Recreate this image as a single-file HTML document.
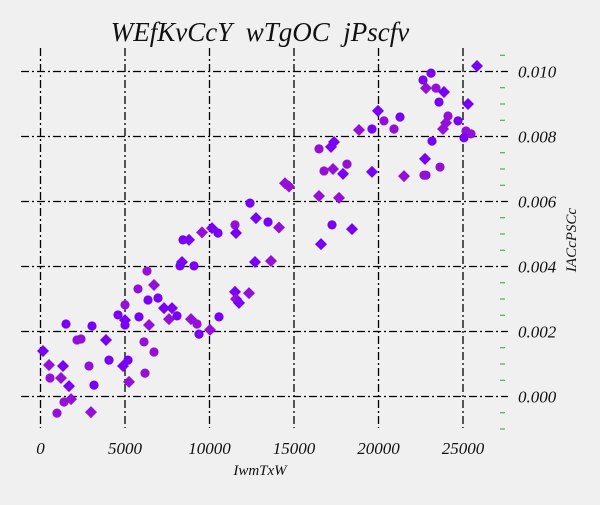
<!DOCTYPE html>
<html><head><meta charset="utf-8"><style>
html,body{margin:0;padding:0;background:#f0f0f0;}
svg text{font-family:"Liberation Serif","DejaVu Serif",serif;font-style:italic;fill:#111;}
</style></head><body>
<svg id="chart" width="600" height="500" viewBox="0 0 600 500" xmlns="http://www.w3.org/2000/svg">
<rect width="600" height="500" fill="#f0f0f0"/>
<text x="260" y="41" font-size="27" text-anchor="middle" style="white-space:pre" xml:space="preserve">WEfKvCcY  wTgOC  jPscfv</text>
<text x="260" y="475" font-size="15" text-anchor="middle">IwmTxW</text>
<text x="0" y="0" font-size="15" text-anchor="middle" transform="translate(576,240) rotate(-90)">IACcPSCc</text>
<g id="grid"></g>
<g id="ticks"></g>
<g id="marks"></g>
</svg>
<script>
const xTicks = [0, 5000, 10000, 15000, 20000, 25000];
const yTicks = [0, 0.002, 0.004, 0.006, 0.008, 0.010];
const yTickLabels = ["0.000", "0.002", "0.004", "0.006", "0.008", "0.010"];
const circleX = [562,976,1390,1509,2160,2396,2870,3047,3166,4053,4586,5000,5000,5178,5828,5769,6302,6361,6124,6716,6183,6953,8077,8254,9083,9260,9379,10562,8432,10503,11509,12396,13462,16479,16775,18136,17249,19615,20325,20917,21272,22633,23107,23402,23580,24112,24704,23166,23639,22692,22810,25177,25473,25059];
const circleY = [0.00057,-0.00051,-0.00017,0.00223,0.00174,0.00177,0.00094,0.00217,0.00035,0.00112,0.00251,0.00282,0.00220,0.00112,0.00245,0.00331,0.00386,0.00297,0.00168,0.00137,0.00072,0.00303,0.00248,0.00402,0.00402,0.00223,0.00192,0.00245,0.00482,0.00503,0.00528,0.00595,0.00537,0.00762,0.00694,0.00715,0.00528,0.00823,0.00848,0.00823,0.00860,0.00974,0.00995,0.00949,0.00906,0.00863,0.00848,0.00786,0.00706,0.00681,0.00681,0.00817,0.00808,0.00796];
const circleC = "mmmbmmmbbbbmbbbmmbmmmbbbbmbbbbmbbmmmbbmmbbbmbmbbmmmmmb";
const diamondX = [148,503,1331,1213,1686,1805,2988,3876,4882,5000,5237,6420,6716,7308,7781,7604,8373,8905,10030,11509,11568,11746,12337,12692,13639,14467,14704,12751,14112,11568,10148,9556,8787,25828,23875,22810,25296,19970,18846,23816,23994,17367,17190,17308,17899,19615,21509,22751,16479,17663,18432,16598];
const diamondY = [0.00140,0.00097,0.00094,0.00057,0.00032,-0.00008,-0.00048,0.00174,0.00094,0.00235,0.00045,0.00220,0.00343,0.00272,0.00272,0.00238,0.00414,0.00238,0.00205,0.00322,0.00300,0.00288,0.00318,0.00414,0.00417,0.00656,0.00646,0.00549,0.00520,0.00503,0.00518,0.00505,0.00482,0.01017,0.00937,0.00949,0.00900,0.00879,0.00820,0.00823,0.00842,0.00783,0.00768,0.00700,0.00685,0.00691,0.00678,0.00731,0.00617,0.00611,0.00515,0.00469];
const diamondC = "bmbmbmmbbbmmmbbmbmmbmbmbmmmbmbbmbbbmbbmmmbbmbbmbmmbb";

const NS = "http://www.w3.org/2000/svg";
function sx(v){ return 40.5 + v / 5000 * 84.5; }
function sy(v){ return 396.5 - v / 0.002 * 65; }
const colors = {b:"#7a00f5", m:"#9410d8"};
function mk(tag, attrs, parent){ const e=document.createElementNS(NS,tag); for(const k in attrs) e.setAttribute(k, attrs[k]); parent.appendChild(e); return e; }
const grid = document.getElementById('grid'), ticks = document.getElementById('ticks'), marks = document.getElementById('marks');
xTicks.forEach((t,i)=>{
  const l = mk('line',{x1:sx(t),x2:sx(t),y1:48,y2:428,stroke:'#000','stroke-width':1.3,'stroke-dasharray':'8,3,2,3'},grid);
  
  
  const tx = mk('text',{x:sx(t),y:454,'font-size':17,'text-anchor':'middle'},ticks);
  tx.textContent = String(t);
  
  
});
yTicks.forEach((t,i)=>{
  const l = mk('line',{x1:21,x2:508,y1:sy(t),y2:sy(t),stroke:'#000','stroke-width':1.3,'stroke-dasharray':'8,3,2,3'},grid);
  
  
  const tx = mk('text',{x:518,y:sy(t)+6,'font-size':17},ticks);
  tx.textContent = yTickLabels[i];
  
  
});
for(let k=-2;k<=21;k++){
  if(k%4===0) continue;
  const v = k*0.0005;
  const l = mk('line',{x1:500,x2:505,y1:sy(v),y2:sy(v),stroke:'#3a9a3a','stroke-width':1},ticks);
  
  
}
circleX.forEach((x,i)=>{
  const c = mk('circle',{cx:sx(x),cy:sy(circleY[i]),r:4.6,fill:colors[circleC[i]]},marks);
  
  
});
diamondX.forEach((x,i)=>{
  const X=sx(x), Y=sy(diamondY[i]), s=6;
  const p = mk('polygon',{points:`${X},${Y-s} ${X+s},${Y} ${X},${Y+s} ${X-s},${Y}`,fill:colors[diamondC[i]]},marks);
  
  
});
</script>
</body></html>
